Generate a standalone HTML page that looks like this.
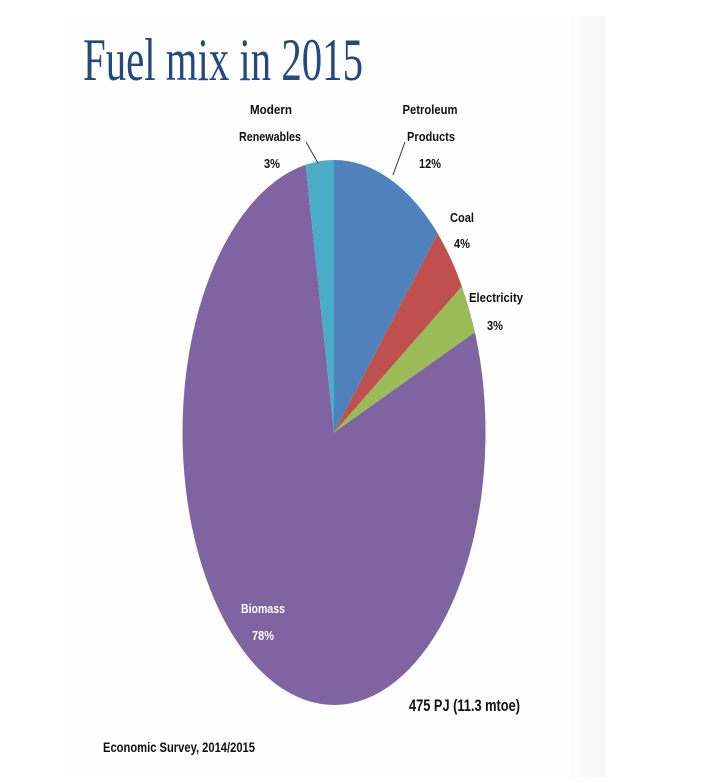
<!DOCTYPE html>
<html><head><meta charset="utf-8"><style>
html,body{margin:0;padding:0;background:#fff;}
svg{display:block;}
</style></head><body>
<svg width="720" height="783" viewBox="0 0 720 783" xmlns="http://www.w3.org/2000/svg">
<defs>
<linearGradient id="rg" x1="0" x2="1" y1="0" y2="0">
<stop offset="0" stop-color="#fdfdfd"/><stop offset="1" stop-color="#f6f6f6"/>
</linearGradient>
</defs>
<rect x="0" y="0" width="720" height="783" fill="#fff"/>
<rect x="70" y="16" width="536" height="761" fill="#fefefe"/>
<rect x="570" y="16" width="36" height="761" fill="url(#rg)"/>
<text x="83" y="80" style="font-family:'Liberation Serif',serif" font-size="60" fill="#23497f" textLength="280" lengthAdjust="spacingAndGlyphs">Fuel mix in 2015</text>
<path d="M334,432.5 L334,160 A151.5,272.5 0 0 1 437.7,233.5 Z" fill="#4f81bd"/>
<path d="M334,432.5 L437.7,233.5 A151.5,272.5 0 0 1 461.9,286.5 Z" fill="#c0504d"/>
<path d="M334,432.5 L461.9,286.5 A151.5,272.5 0 0 1 474.9,332.2 Z" fill="#9bbb59"/>
<path d="M334,432.5 L474.9,332.2 A151.5,272.5 0 1 1 305.6,164.8 Z" fill="#8064a2"/>
<path d="M334,432.5 L305.6,164.8 A151.5,272.5 0 0 1 334,160 Z" fill="#4bacc6"/>
<line x1="306" y1="142" x2="318" y2="163" stroke="#333" stroke-width="1"/>
<line x1="405" y1="142" x2="393" y2="175" stroke="#333" stroke-width="1"/>
<g style="font-family:'Liberation Sans Narrow','Liberation Sans',sans-serif;font-weight:bold" font-size="13" fill="#111" text-anchor="middle">
<text x="271" y="114" textLength="42" lengthAdjust="spacingAndGlyphs">Modern</text>
<text x="270" y="141" textLength="62" lengthAdjust="spacingAndGlyphs">Renewables</text>
<text x="272" y="168" textLength="16" lengthAdjust="spacingAndGlyphs">3%</text>
<text x="430" y="114" textLength="55" lengthAdjust="spacingAndGlyphs">Petroleum</text>
<text x="431" y="141" textLength="48" lengthAdjust="spacingAndGlyphs">Products</text>
<text x="430" y="168" textLength="22" lengthAdjust="spacingAndGlyphs">12%</text>
<text x="462" y="222" textLength="24" lengthAdjust="spacingAndGlyphs">Coal</text>
<text x="462" y="248" textLength="16" lengthAdjust="spacingAndGlyphs">4%</text>
<text x="496" y="302" textLength="54" lengthAdjust="spacingAndGlyphs">Electricity</text>
<text x="495" y="330" textLength="16" lengthAdjust="spacingAndGlyphs">3%</text>
<text x="263" y="613" fill="#fff" textLength="44" lengthAdjust="spacingAndGlyphs">Biomass</text>
<text x="263" y="640" fill="#fff" textLength="22" lengthAdjust="spacingAndGlyphs">78%</text>
</g>
<g style="font-family:'Liberation Sans Narrow','Liberation Sans',sans-serif;font-weight:bold" fill="#111">
<text x="409" y="711" font-size="17" textLength="111" lengthAdjust="spacingAndGlyphs">475 PJ (11.3 mtoe)</text>
<text x="103" y="752" font-size="14" textLength="152" lengthAdjust="spacingAndGlyphs">Economic Survey, 2014/2015</text>
</g>
</svg>
</body></html>
